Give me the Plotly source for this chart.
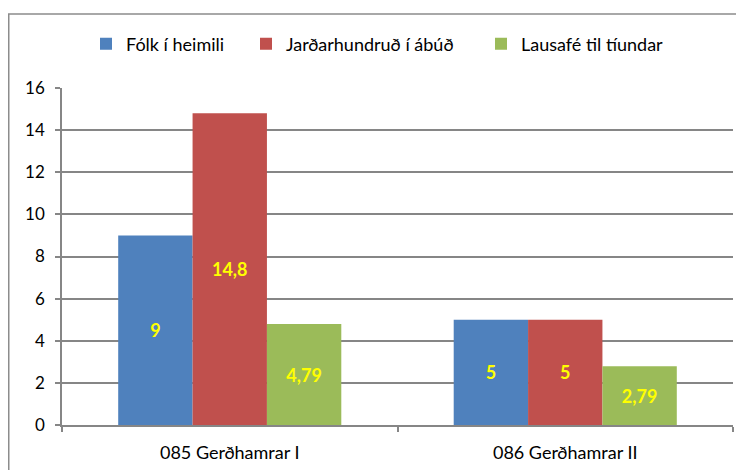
import plotly.graph_objects as go

categories = ["085 Gerðhamrar I", "086 Gerðhamrar II"]
series_names = ["Fólk í heimili", "Jarðarhundruð í ábúð", "Lausafé til tíundar"]
folk = [9, 5]
jardar = [14.8, 5]
lausafe = [4.79, 2.79]
colors = ["#4F81BD", "#C0504D", "#9BBB59"]
y_ticks = [0, 2, 4, 6, 8, 10, 12, 14, 16]

def fmt(v):
    s = ("%g" % v)
    return s.replace(".", ",")

legend_ids = ["legend", "legend2", "legend3"]
legend_x_px = [86, 246, 481]

fig = go.Figure()
for name, vals, col, lid in zip(series_names, [folk, jardar, lausafe], colors, legend_ids):
    fig.add_trace(go.Bar(
        x=categories, y=vals, name=name, legend=lid,
        marker=dict(color=col, line=dict(width=0)),
        text=[fmt(v) for v in vals],
        textposition="inside", insidetextanchor="middle",
        textangle=0,
        textfont=dict(color="#FFFF00", size=18, family="Lato", weight="bold"),
    ))

# page has an 8px body margin; compensate
OFF = 8
W, H = 744 - OFF, 470 - OFF
L, R, T, B = 62 - OFF, 11, 88 - OFF, 45
pw, ph = W - L - R, H - T - B

def px(x):
    return (x - OFF - L) / pw

def py(y):
    return (H - B - (y - OFF)) / ph

legends = {}
for lid, lx in zip(legend_ids, legend_x_px):
    legends[lid] = dict(orientation="h", x=px(lx), xanchor="left", y=py(44), yanchor="middle",
                        font=dict(size=18, family="Lato"), itemwidth=30,
                        bgcolor="rgba(0,0,0,0)")

fig.update_layout(
    width=W, height=H,
    margin=dict(l=L, r=R, t=T, b=B, autoexpand=False),
    paper_bgcolor="white", plot_bgcolor="white",
    barmode="group", bargap=0.335, bargroupgap=0,
    font=dict(family="Lato", size=17, color="#000000"),
    showlegend=True,
    xaxis=dict(showline=True, linecolor="#868686", linewidth=1.5,
               ticks="outside", tickson="boundaries", ticklen=5, tickcolor="#868686",
               tickwidth=1.5, tickfont=dict(size=18), showgrid=False,
               ticklabelstandoff=11),
    yaxis=dict(range=[0, 16], tickvals=y_ticks, showline=True, linecolor="#868686",
               linewidth=1.5, ticks="outside", ticklen=5, tickcolor="#868686",
               tickwidth=1.5, showgrid=True, gridcolor="#868686", gridwidth=1.5,
               tickfont=dict(size=17), zeroline=False, ticklabelstandoff=7),
    shapes=[dict(type="rect", xref="paper", yref="paper",
                 x0=px(8.75), x1=px(760), y0=py(490), y1=py(14),
                 line=dict(color="#8C8C8C", width=1.5), layer="above")],
    **legends,
)

fig.write_html("out.html")
